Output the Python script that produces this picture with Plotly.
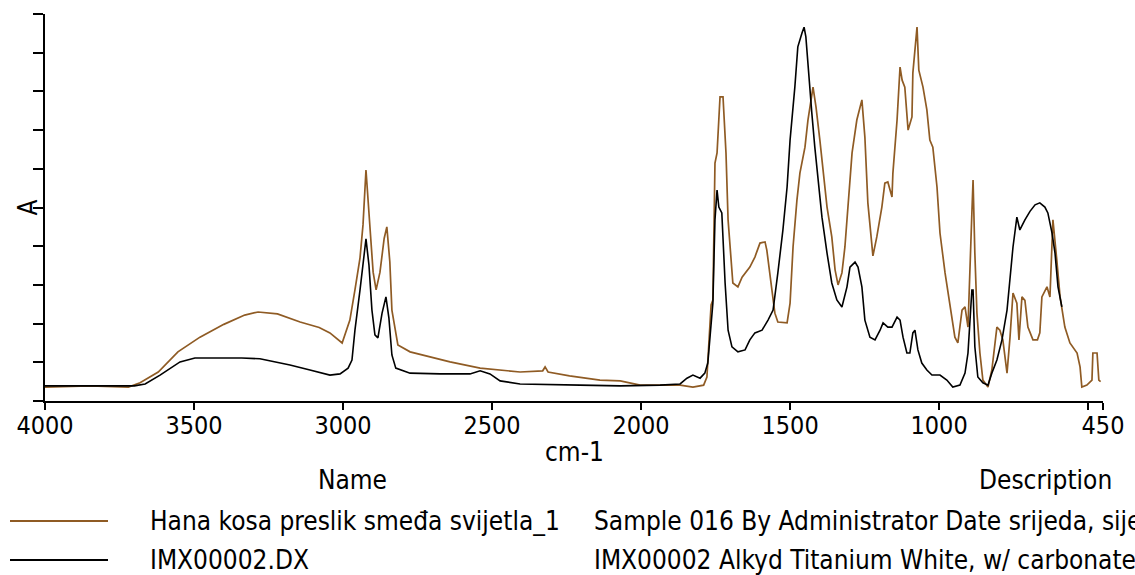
import plotly.graph_objects as go

# Wavenumber grid (cm-1) and absorbance readings for the sample spectrum
hana_wn = [4000, 3850, 3720, 3681, 3620, 3554, 3480, 3400, 3330, 3285, 3220, 3144, 3080,
           3044, 3003, 2977, 2960, 2943, 2933, 2923, 2909, 2899, 2889, 2876, 2862, 2853,
           2843, 2836, 2816, 2775, 2641, 2540, 2406, 2330, 2322, 2312, 2240, 2138, 2070,
           2003, 1936, 1869, 1826, 1790, 1779, 1769, 1765, 1759, 1752, 1745, 1735, 1725,
           1715, 1708, 1702, 1692, 1675, 1661, 1635, 1618, 1601, 1584, 1578, 1568, 1551,
           1541, 1510, 1500, 1490, 1477, 1467, 1450, 1440, 1423, 1413, 1400, 1390, 1376,
           1360, 1349, 1339, 1326, 1316, 1306, 1292, 1276, 1259, 1249, 1239, 1222, 1209,
           1192, 1182, 1172, 1158, 1155, 1141, 1131, 1124, 1115, 1104, 1091, 1088, 1074,
           1068, 1054, 1041, 1031, 1021, 1007, 997, 980, 964, 947, 937, 923, 913, 903,
           890, 886, 880, 873, 863, 853, 836, 823, 806, 796, 786, 772, 762, 752, 739, 732,
           722, 712, 702, 685, 670, 662, 655, 638, 628, 621, 618, 605, 594, 578, 561, 537,
           527, 521, 504, 487, 484, 470, 464, 458]
hana_abs = [0.036, 0.039, 0.036, 0.047, 0.075, 0.127, 0.165, 0.198, 0.222, 0.230, 0.225,
            0.204, 0.190, 0.176, 0.150, 0.209, 0.287, 0.370, 0.455, 0.597, 0.442, 0.333,
            0.287, 0.333, 0.420, 0.450, 0.360, 0.235, 0.145, 0.127, 0.101, 0.085, 0.075,
            0.078, 0.088, 0.075, 0.065, 0.054, 0.052, 0.041, 0.041, 0.041, 0.036, 0.041,
            0.062, 0.183, 0.248, 0.261, 0.615, 0.641, 0.786, 0.786, 0.641, 0.468, 0.398,
            0.305, 0.295, 0.320, 0.346, 0.372, 0.408, 0.411, 0.390, 0.331, 0.227, 0.204,
            0.202, 0.253, 0.398, 0.519, 0.589, 0.656, 0.726, 0.811, 0.760, 0.674, 0.597,
            0.501, 0.424, 0.339, 0.300, 0.331, 0.398, 0.501, 0.641, 0.726, 0.778, 0.682,
            0.512, 0.375, 0.424, 0.501, 0.563, 0.566, 0.527, 0.589, 0.726, 0.863, 0.829,
            0.811, 0.700, 0.734, 0.848, 0.966, 0.855, 0.811, 0.752, 0.674, 0.656, 0.553,
            0.434, 0.331, 0.253, 0.165, 0.150, 0.235, 0.243, 0.191, 0.486, 0.571, 0.382,
            0.227, 0.124, 0.054, 0.036, 0.080, 0.191, 0.183, 0.158, 0.072, 0.165, 0.279,
            0.253, 0.158, 0.269, 0.260, 0.191, 0.158, 0.158, 0.176, 0.269, 0.295, 0.269,
            0.416, 0.468, 0.364, 0.269, 0.191, 0.150, 0.124, 0.088, 0.036, 0.041, 0.054,
            0.124, 0.124, 0.054, 0.050]

# Reference library spectrum
imx_wn = [4000, 3850, 3700, 3664, 3614, 3547, 3497, 3420, 3340, 3279, 3178, 3111, 3044,
          3010, 2983, 2970, 2960, 2943, 2933, 2923, 2913, 2903, 2893, 2883, 2869, 2856,
          2846, 2836, 2823, 2775, 2674, 2574, 2540, 2507, 2473, 2406, 2205, 2070, 1936,
          1869, 1846, 1826, 1802, 1786, 1776, 1765, 1759, 1752, 1745, 1739, 1729, 1718,
          1708, 1695, 1675, 1651, 1635, 1618, 1594, 1574, 1557, 1541, 1524, 1510, 1500,
          1484, 1474, 1460, 1453, 1447, 1440, 1427, 1417, 1406, 1393, 1376, 1360, 1343,
          1326, 1309, 1299, 1282, 1272, 1259, 1249, 1232, 1215, 1198, 1188, 1172, 1158,
          1141, 1131, 1121, 1108, 1098, 1088, 1081, 1071, 1058, 1041, 1024, 997, 974, 954,
          930, 913, 903, 890, 886, 880, 870, 853, 836, 823, 806, 789, 772, 762, 752, 739,
          729, 712, 695, 678, 662, 645, 635, 621, 611, 601, 588]
imx_abs = [0.039, 0.039, 0.039, 0.044, 0.067, 0.101, 0.111, 0.111, 0.111, 0.109, 0.093,
           0.080, 0.067, 0.070, 0.085, 0.106, 0.183, 0.287, 0.359, 0.419, 0.351, 0.235,
           0.171, 0.163, 0.227, 0.269, 0.214, 0.119, 0.085, 0.072, 0.070, 0.070, 0.078,
           0.070, 0.052, 0.044, 0.041, 0.039, 0.041, 0.044, 0.059, 0.067, 0.059, 0.072,
           0.098, 0.209, 0.253, 0.468, 0.545, 0.501, 0.486, 0.305, 0.183, 0.140, 0.127,
           0.132, 0.158, 0.176, 0.183, 0.209, 0.235, 0.331, 0.442, 0.553, 0.674, 0.811,
           0.915, 0.951, 0.966, 0.941, 0.863, 0.744, 0.656, 0.571, 0.475, 0.382, 0.305,
           0.261, 0.243, 0.295, 0.346, 0.359, 0.346, 0.295, 0.209, 0.165, 0.158, 0.183,
           0.202, 0.191, 0.191, 0.217, 0.209, 0.165, 0.124, 0.124, 0.176, 0.183, 0.132,
           0.098, 0.080, 0.067, 0.067, 0.054, 0.036, 0.041, 0.072, 0.124, 0.287, 0.287,
           0.140, 0.062, 0.047, 0.041, 0.072, 0.106, 0.158, 0.235, 0.313, 0.398, 0.475,
           0.442, 0.468, 0.490, 0.507, 0.512, 0.501, 0.486, 0.434, 0.382, 0.295, 0.243]

x_ticks = [4000, 3500, 3000, 2500, 2000, 1500, 1000, 500, 450]
x_tick_text = ["4000", "3500", "3000", "2500", "2000", "1500", "1000", "", "450"]
y_ticks = [i / 10 for i in range(11)]

names = ["Hana kosa preslik smeđa svijetla_1", "IMX00002.DX"]
descriptions = ["Sample 016 By Administrator Date srijeda, sije",
                "IMX00002 Alkyd Titanium White, w/ carbonate"]
colors = ["#8f5b24", "#000000"]

FONT = "Liberation Sans Narrow, DejaVu Sans Condensed, Arial Narrow, sans-serif"
W, H = 1135, 575
L, R, T, B = 45, 32, 14, 174
PW, PH = W - L - R, H - T - B


def px(x):
    return (x - L) / PW


def py(y):
    return (H - B - y) / PH


fig = go.Figure()
fig.add_trace(go.Scatter(x=hana_wn, y=hana_abs, mode="lines", name=names[0],
                         line=dict(color=colors[0], width=1.7)))
fig.add_trace(go.Scatter(x=imx_wn, y=imx_abs, mode="lines", name=names[1],
                         line=dict(color=colors[1], width=1.6)))

annotations = [
    dict(text="cm-1", x=0.5, y=py(452), xanchor="center", yanchor="middle"),
    dict(text="A", x=px(27), y=0.5, xanchor="center", yanchor="middle", textangle=-90),
    dict(text="Name", x=px(352), y=py(480), xanchor="center", yanchor="middle"),
    dict(text="Description", x=px(1045), y=py(480), xanchor="center", yanchor="middle"),
]
shapes = []
row_y = [521, 560]
for i in range(2):
    annotations.append(dict(text=names[i], x=px(148), y=py(row_y[i]),
                            xanchor="left", yanchor="middle"))
    annotations.append(dict(text=descriptions[i], x=px(592), y=py(row_y[i]),
                            xanchor="left", yanchor="middle"))
    shapes.append(dict(type="line", xref="paper", yref="paper",
                       x0=px(10), x1=px(108), y0=py(row_y[i]), y1=py(row_y[i]),
                       line=dict(color=colors[i], width=2)))
for a in annotations:
    a.update(xref="paper", yref="paper", showarrow=False,
             font=dict(family=FONT, size=26, color="#000000"))

fig.update_layout(
    width=W, height=H,
    margin=dict(l=L, r=R, t=T, b=B, pad=0),
    paper_bgcolor="white", plot_bgcolor="white",
    showlegend=False,
    annotations=annotations,
    shapes=shapes,
    xaxis=dict(range=[4000, 450], tickvals=x_ticks, ticktext=x_tick_text,
               showline=True, linecolor="black", linewidth=1.5,
               ticks="outside", ticklen=7, tickwidth=1.5, tickcolor="black",
               ticklabelstandoff=-6,
               showgrid=False, zeroline=False,
               tickfont=dict(family=FONT, size=25, color="black")),
    yaxis=dict(range=[0, 1], tickvals=y_ticks, showticklabels=False,
               showline=True, linecolor="black", linewidth=1.5,
               ticks="outside", ticklen=10, tickwidth=1.5, tickcolor="black",
               showgrid=False, zeroline=False),
)

fig.write_html("out.html")
